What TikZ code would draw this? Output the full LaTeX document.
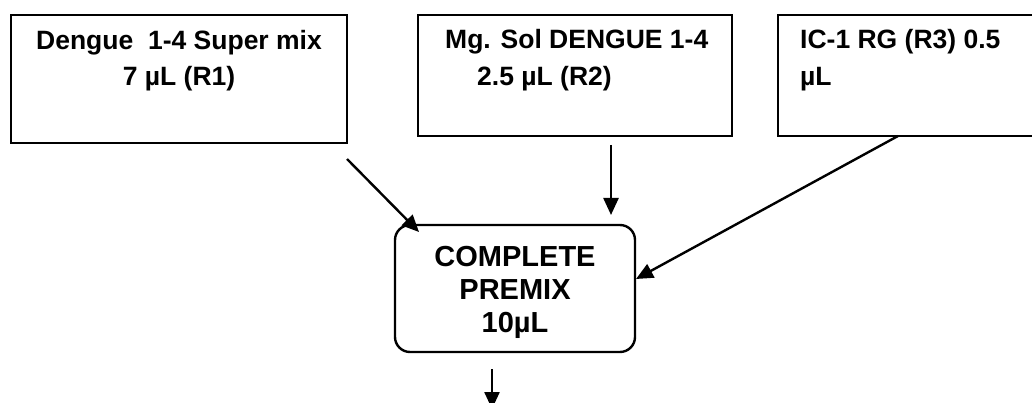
\documentclass[tikz,border=0pt]{standalone}
\usepackage{fontspec}
\setmainfont{Liberation Sans}
\usetikzlibrary{arrows.meta}
\begin{document}
\begin{tikzpicture}[x=1pt,y=-1pt,
  boxline/.style={draw=black,line width=2.4pt},
  flow/.style={draw=black,line width=2.4pt,-{Triangle[length=17pt,width=15pt]}},
  lbl/.style={inner sep=0pt,anchor=base west,font=\bfseries\fontsize{26.5}{32}\selectfont},
  clbl/.style={inner sep=0pt,anchor=base,font=\bfseries\fontsize{26.5}{32}\selectfont}]
\useasboundingbox (0,0) rectangle (1032,403);
\clip (0,0) rectangle (1032,403);
\fill[white] (0,0) rectangle (1032,403);

% reagent boxes
\draw[boxline] (11,15) rectangle (347,143);
\node[clbl] (r1a) at (179,50) {Dengue~~1-4 Super mix};
\node[clbl] (r1b) at (179,86) {7 µL (R1)};

\draw[boxline] (418,15) rectangle (732,136);
\node[lbl] (r2a) at (445,49) {Mg. Sol DENGUE 1-4};
\node[lbl] (r2b) at (477,86) {2.5 µL (R2)};

\draw[boxline] (778,15) rectangle (1045,136);
\node[lbl] (r3a) at (800,49) {IC-1 RG (R3) 0.5};
\node[lbl] (r3b) at (800,86) {µL};

% premix box and its text
\node[draw=black,line width=2.4pt,rounded corners=15pt,minimum width=240pt,minimum height=127pt,
      inner sep=0pt] (premix) at (515,288.5) {};
\node[inner sep=0pt,align=center,font=\bfseries\fontsize{29}{33}\selectfont]
  (premixtext) at (515,292) {COMPLETE\\PREMIX\\10µL};

% connector ends
\coordinate (s1) at (347,159);
\coordinate (e1) at (419,232);
\coordinate (s2) at (611,145);
\coordinate (e2) at (611,215);
\coordinate (s3) at (898,136);
\coordinate (e3) at (636,279);
\coordinate (s4) at (492,369);
\coordinate (e4) at (492,409);

\draw[flow] (s1) -- (e1);
\draw[flow] (s2) -- (e2);
\draw[flow] (s3) -- (e3);
\draw[flow] (s4) -- (e4);
\end{tikzpicture}
\end{document}
